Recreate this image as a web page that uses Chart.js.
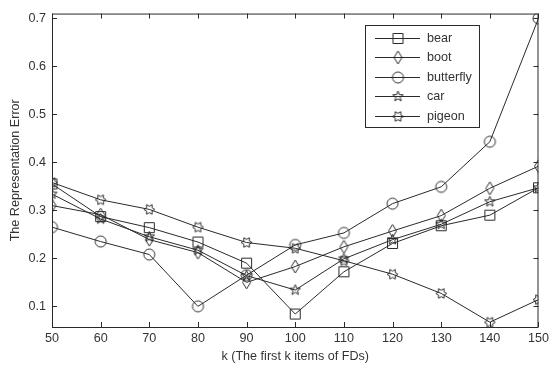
<!DOCTYPE html>
<html lang="en">
<head>
    <meta charset="UTF-8">
    <title>Representation Error</title>
    <script src="https://cdn.jsdelivr.net/npm/chart.js"></script>
</head>
<style>
    body { margin: 0; background: #fff; }
    #wrap { width: 553px; height: 365px; }
</style>
<body>
<div id="wrap">
    <canvas id="errChart" width="553" height="365"></canvas>
</div>
<script>
    // data
    var kValues = [50, 60, 70, 80, 90, 100, 110, 120, 130, 140, 150];
    var bear = [0.355, 0.287, 0.264, 0.234, 0.19, 0.084, 0.172, 0.231, 0.268, 0.29, 0.347];
    var boot = [0.31, 0.291, 0.239, 0.212, 0.15, 0.183, 0.224, 0.257, 0.289, 0.346, 0.392];
    var butterfly = [0.265, 0.235, 0.208, 0.1, 0.165, 0.228, 0.253, 0.314, 0.349, 0.443, 0.7];
    var car = [0.334, 0.282, 0.245, 0.217, 0.164, 0.134, 0.199, 0.239, 0.271, 0.318, 0.347];
    var pigeon = [0.358, 0.322, 0.302, 0.265, 0.233, 0.221, 0.195, 0.167, 0.127, 0.067, 0.114];
    var seriesNames = ['bear', 'boot', 'butterfly', 'car', 'pigeon'];
    var yTicks = [0.1, 0.2, 0.3, 0.4, 0.5, 0.6, 0.7];
    var xTicks = [50, 60, 70, 80, 90, 100, 110, 120, 130, 140, 150];

    var ink = '#2a2a2a';
    var textCol = '#333';
    var fontFam = '"Liberation Sans", Arial, sans-serif';
    var fontSize = 12.6;

    // little canvases used as marker images (open markers like matlab)
    function makeMarker(kind) {
        var c = document.createElement('canvas');
        c.width = 15; c.height = 15;
        var g = c.getContext('2d');
        g.strokeStyle = ink;
        g.lineWidth = 1;
        var cx = 7.5, cy = 7.5;
        g.beginPath();
        if (kind == 'square') {
            g.rect(2.5, 2.5, 10, 10);
        } else if (kind == 'diamond') {
            g.moveTo(cx, 1); g.lineTo(cx + 4, cy); g.lineTo(cx, 14); g.lineTo(cx - 4, cy); g.closePath();
        } else if (kind == 'circle') {
            g.arc(cx, cy, 5.5, 0, Math.PI * 2);
        } else {
            var n = kind == 'pentagram' ? 5 : 6;
            var ro = 5.5;
            var ri = kind == 'pentagram' ? 2.3 : 3.2;
            for (var i = 0; i < n * 2; i++) {
                var r = i % 2 == 0 ? ro : ri;
                var a = -Math.PI / 2 + i * Math.PI / n;
                if (kind == 'hexagram') a += Math.PI / 2;
                var px = cx + r * Math.cos(a), py = cy + r * Math.sin(a);
                if (i == 0) g.moveTo(px, py); else g.lineTo(px, py);
            }
            g.closePath();
        }
        g.stroke();
        return c;
    }

    var markers = [makeMarker('square'), makeMarker('diamond'), makeMarker('circle'),
                   makeMarker('pentagram'), makeMarker('hexagram')];
    var allSeries = [bear, boot, butterfly, car, pigeon];

    var datasets = [];
    for (var i = 0; i < allSeries.length; i++) {
        datasets.push({
            label: seriesNames[i],
            data: allSeries[i].map(function (v, j) { return { x: kValues[j], y: v }; }),
            borderColor: ink,
            borderWidth: 1,
            pointStyle: markers[i],
            pointRadius: 6,
            fill: false,
            tension: 0
        });
    }

    // frame with inward ticks on all 4 sides + boxed legend
    var framePlugin = {
        id: 'framePlugin',
        afterDatasetsDraw: function (chart) {
            var ctx = chart.ctx;
            var a = chart.chartArea;
            var xs = chart.scales.x, ys = chart.scales.y;
            ctx.save();
            ctx.strokeStyle = ink;
            ctx.lineWidth = 1;
            ctx.strokeRect(a.left + 0.5, a.top + 0.5, a.right - a.left - 1, a.bottom - a.top);
            ctx.beginPath();
            xTicks.forEach(function (v) {
                var px = Math.round(xs.getPixelForValue(v)) + 0.5;
                ctx.moveTo(px, a.bottom); ctx.lineTo(px, a.bottom - 5);
                ctx.moveTo(px, a.top); ctx.lineTo(px, a.top + 5);
            });
            yTicks.forEach(function (v) {
                var py = Math.round(ys.getPixelForValue(v)) + 0.5;
                ctx.moveTo(a.left, py); ctx.lineTo(a.left + 5, py);
                ctx.moveTo(a.right, py); ctx.lineTo(a.right - 5, py);
            });
            ctx.stroke();

            // legend
            var lx = 365, ly = 25, lw = 114, lh = 102;
            ctx.fillStyle = '#fff';
            ctx.fillRect(lx, ly, lw, lh);
            ctx.strokeRect(lx + 0.5, ly + 0.5, lw, lh);
            ctx.font = fontSize + 'px ' + fontFam;
            ctx.textBaseline = 'middle';
            for (var i = 0; i < seriesNames.length; i++) {
                var ey = Math.round(38 + i * 19.4) + 0.5;
                ctx.beginPath();
                ctx.moveTo(375, ey); ctx.lineTo(420, ey);
                ctx.stroke();
                ctx.drawImage(markers[i], 398 - 7.5, ey - 7.5);
                ctx.fillStyle = textCol;
                ctx.fillText(seriesNames[i], 427, ey);
            }
            ctx.restore();
        }
    };

    var errChart = new Chart(document.getElementById('errChart').getContext('2d'), {
        type: 'line',
        data: { datasets: datasets },
        options: {
            responsive: false,
            animation: false,
            layout: { padding: { top: 7, right: 9, left: 0, bottom: 0 } },
            plugins: { legend: { display: false }, tooltip: { enabled: false } },
            scales: {
                x: {
                    type: 'linear',
                    min: 50, max: 150,
                    afterBuildTicks: function (s) { s.ticks = xTicks.map(function (v) { return { value: v }; }); },
                    afterFit: function (s) { s.height = 38; },
                    grid: { display: false, drawTicks: false },
                    border: { display: false },
                    ticks: { color: textCol, font: { size: fontSize, family: fontFam }, padding: 4, maxRotation: 0 },
                    title: { display: true, text: 'k (The first k items of FDs)', color: textCol,
                             font: { size: fontSize, family: fontFam }, padding: { top: 0, bottom: 1 } }
                },
                y: {
                    min: 0.057, max: 0.71,
                    afterBuildTicks: function (s) { s.ticks = yTicks.map(function (v) { return { value: v }; }); },
                    afterFit: function (s) { s.width = 52; },
                    grid: { display: false, drawTicks: false },
                    border: { display: false },
                    ticks: { color: textCol, font: { size: fontSize, family: fontFam }, padding: 6,
                             callback: function (v) { return v.toFixed(1); } },
                    title: { display: true, text: 'The Representation Error', color: textCol,
                             font: { size: fontSize, family: fontFam }, padding: { top: 8, bottom: 0 } }
                }
            }
        },
        plugins: [framePlugin]
    });
</script>
</body>
</html>
